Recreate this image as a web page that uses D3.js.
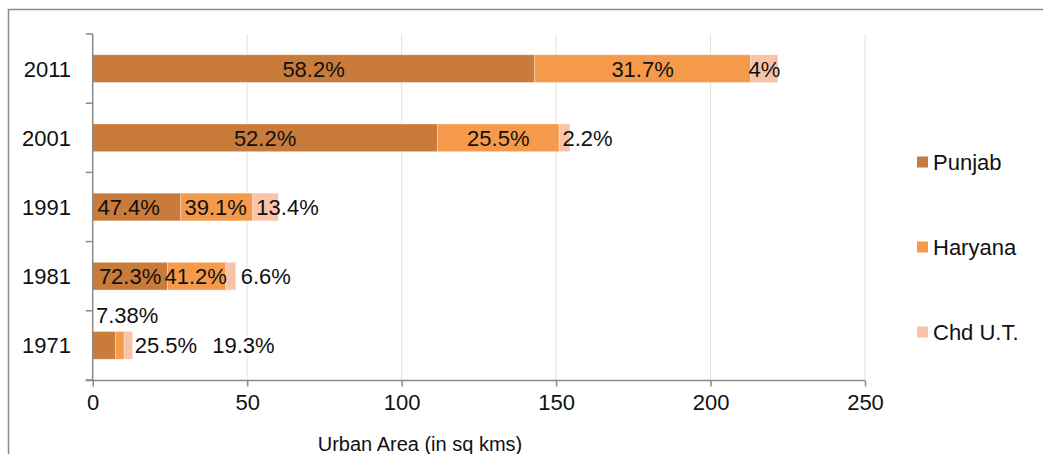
<!DOCTYPE html>
<html>
<head>
<meta charset="utf-8">
<script src="https://cdn.jsdelivr.net/npm/d3@7"></script>
<style>
  html, body { margin: 0; padding: 0; background: #fff; }
  svg { display: block; font-family: "Liberation Sans", Arial, sans-serif; }
</style>
</head>
<body>
<svg id="chart" width="1043" height="454"></svg>
<script>
// Urban area by year (sq km), stacked by region
const years = ["1971", "1981", "1991", "2001", "2011"];
const punjab = [7.4, 24.2, 28.5, 111.6, 143.0];
const haryana = [2.8, 18.9, 23.3, 39.4, 70.0];
const chd = [2.7, 3.2, 8.3, 3.5, 8.8];

// Percentage labels printed on each segment
const punjabLabels = ["7.38%", "72.3%", "47.4%", "52.2%", "58.2%"];
const haryanaLabels = ["25.5%", "41.2%", "39.1%", "25.5%", "31.7%"];
const chdLabels = ["19.3%", "6.6%", "13.4%", "2.2%", "4%"];

const seriesNames = ["Punjab", "Haryana", "Chd U.T."];
const xTicks = [0, 50, 100, 150, 200, 250];

const colors = ["#C97B3B", "#F59A4A", "#F8C3A7"];

// Hand-placed label nudges (px) for labels that sit beside their segment
const labelNudge = {
  "1971": [[23, -30], [46, 0], [115, 0]],
  "1981": [[0, 0], [-1, 0], [35, 0]],
  "1991": [[-8, 0], [-1, 0], [22, 0]],
  "2001": [[0, 0], [0, 0], [23, 0]],
  "2011": [[0, 0], [0, 0], [0, 0]]
};

const svg = d3.select("#chart");

// outer frame
svg.append("rect")
  .attr("x", 8.5).attr("y", 9.5)
  .attr("width", 1100).attr("height", 500)
  .attr("fill", "none").attr("stroke", "#8a8a8a").attr("stroke-width", 1.5);

const x = d3.scaleLinear().domain([0, 250]).range([92.7, 865]);
const y = d3.scaleBand().domain(years.slice().reverse()).range([34, 380])
  .paddingInner(0.6).paddingOuter(0.3);

const axisY = 380.5;

// vertical gridlines
svg.append("g").selectAll("line").data(xTicks.slice(1)).join("line")
  .attr("x1", d => x(d)).attr("x2", d => x(d))
  .attr("y1", 34).attr("y2", axisY)
  .attr("stroke", "#e8e3da").attr("stroke-width", 1);

// stacked data
const table = years.map((yr, i) => ({ year: yr, Punjab: punjab[i], Haryana: haryana[i], "Chd U.T.": chd[i] }));
const stack = d3.stack().keys(seriesNames)(table);
const labelSets = [punjabLabels, haryanaLabels, chdLabels];

const layers = svg.append("g").selectAll("g").data(stack).join("g")
  .attr("fill", (d, i) => colors[i]);

layers.selectAll("rect").data(d => d).join("rect")
  .attr("x", d => x(d[0]))
  .attr("width", d => x(d[1]) - x(d[0]))
  .attr("y", d => y(d.data.year))
  .attr("height", y.bandwidth())
  .attr("stroke", "rgba(255,255,255,0.3)")
  .attr("stroke-width", 1);

// segment labels
const fs = 22;
stack.forEach((layer, si) => {
  svg.append("g").selectAll("text").data(layer).join("text")
    .attr("x", (d, i) => (x(d[0]) + x(d[1])) / 2 + labelNudge[d.data.year][si][0])
    .attr("y", (d, i) => y(d.data.year) + y.bandwidth() / 2 + fs * 0.36 + labelNudge[d.data.year][si][1])
    .attr("text-anchor", "middle")
    .attr("font-size", fs)
    .attr("fill", "#111")
    .text((d, i) => labelSets[si][i]);
});

// x axis
const xAxis = d3.axisBottom(x).tickValues(xTicks).tickSize(6).tickPadding(8);
const gx = svg.append("g").attr("transform", `translate(0,${axisY})`).call(xAxis);
gx.select(".domain").attr("stroke", "#8a8a8a").attr("stroke-width", 1.5)
  .attr("d", `M${x(0) - 7},0H${x(250)}`);
gx.selectAll(".tick line").attr("stroke", "#8a8a8a").attr("stroke-width", 1.5);
gx.selectAll(".tick text").attr("font-size", fs).attr("fill", "#111")
  .attr("font-family", "Liberation Sans, Arial, sans-serif");

// y axis with boundary ticks between categories
const yAxisX = 92.7;
const gy = svg.append("g");
gy.append("line").attr("x1", yAxisX).attr("x2", yAxisX).attr("y1", 34).attr("y2", axisY)
  .attr("stroke", "#8a8a8a").attr("stroke-width", 1.5);
const step = y.step();
const bounds = d3.range(years.length + 1).map(i => 34 + i * step);
gy.selectAll("line.tk").data(bounds).join("line").attr("class", "tk")
  .attr("x1", yAxisX - 7).attr("x2", yAxisX)
  .attr("y1", d => d).attr("y2", d => d)
  .attr("stroke", "#8a8a8a").attr("stroke-width", 1.5);
gy.selectAll("text").data(years).join("text")
  .attr("x", 71)
  .attr("y", d => y(d) + y.bandwidth() / 2 + fs * 0.36)
  .attr("text-anchor", "end")
  .attr("font-size", fs).attr("fill", "#111")
  .text(d => d);

// axis title
svg.append("text")
  .attr("x", 420).attr("y", 451)
  .attr("text-anchor", "middle")
  .attr("font-size", 20).attr("fill", "#111")
  .text("Urban Area (in sq kms)");

// legend
const legendY = [162, 247, 332];
const lg = svg.append("g").selectAll("g").data(seriesNames).join("g")
  .attr("transform", (d, i) => `translate(917,${legendY[i]})`);
lg.append("rect").attr("x", 0).attr("y", -5.5).attr("width", 11).attr("height", 11)
  .attr("fill", (d, i) => colors[i]);
lg.append("text").attr("x", 16).attr("y", fs * 0.36)
  .attr("font-size", fs).attr("fill", "#111")
  .text(d => d);
</script>
</body>
</html>
